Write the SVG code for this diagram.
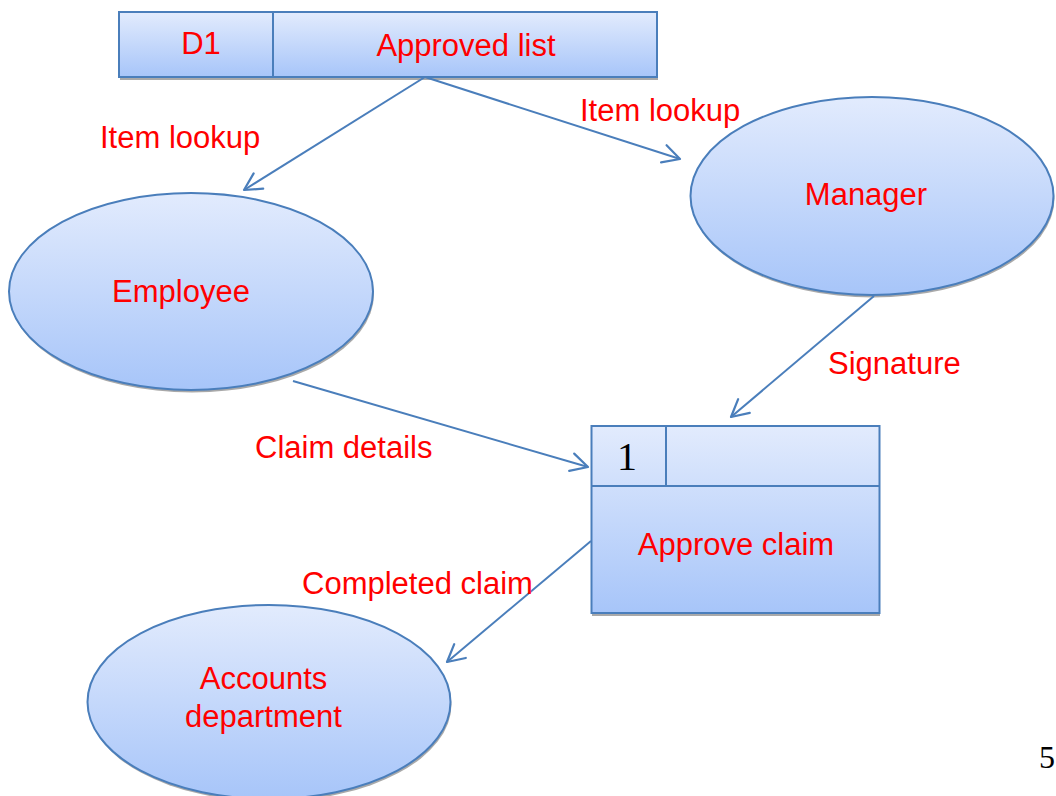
<svg xmlns="http://www.w3.org/2000/svg" width="1056" height="796" viewBox="0 0 1056 796">
<defs>
<linearGradient id="g" x1="0" y1="0" x2="0" y2="1">
<stop offset="0" stop-color="#e2ebfd"/>
<stop offset="1" stop-color="#a7c5f9"/>
</linearGradient>
<marker id="arr" viewBox="0 0 22 22" refX="19" refY="11" markerWidth="22" markerHeight="22" markerUnits="userSpaceOnUse" orient="auto">
<path d="M2,2 L19,11 L2,20" fill="none" stroke="#4a7ebb" stroke-width="2.2" stroke-linecap="round" stroke-linejoin="round"/>
</marker>
</defs>
<style>
.shape{fill:url(#g);stroke:#4a7ebb;stroke-width:2}
.shadow{fill:#8c8c8c;opacity:0.75}
.div{stroke:#4a7ebb;stroke-width:2;fill:none}
.lbl{font-family:"Liberation Sans","DejaVu Sans",sans-serif;font-size:31px;fill:#ff0000}
.num{font-family:"Liberation Serif","DejaVu Serif",serif;fill:#000000}
.conn line{stroke:#4a7ebb;stroke-width:2;marker-end:url(#arr)}
</style>
<rect width="1056" height="796" fill="#ffffff"/>

<g id="store-d1">
<rect class="shadow" x="120" y="15" width="538" height="65"/>
<rect class="shape" x="119" y="12" width="538" height="65"/>
<line class="div" x1="273" y1="12" x2="273" y2="77"/>
<text class="lbl" x="201" y="54" text-anchor="middle">D1</text>
<text class="lbl" x="466" y="56" text-anchor="middle">Approved list</text>
</g>

<g id="employee">
<ellipse class="shadow" cx="192" cy="294" rx="182" ry="98.5"/>
<ellipse class="shape" cx="191" cy="291.5" rx="182" ry="98.5"/>
<text class="lbl" x="181" y="302" text-anchor="middle">Employee</text>
</g>

<g id="manager">
<ellipse class="shadow" cx="873" cy="198.5" rx="181.5" ry="99"/>
<ellipse class="shape" cx="872" cy="196" rx="181.5" ry="99"/>
<text class="lbl" x="866" y="205" text-anchor="middle">Manager</text>
</g>

<g id="process-1">
<rect class="shadow" x="592" y="429" width="288" height="187"/>
<rect class="shape" x="591.5" y="426" width="288" height="187"/>
<line class="div" x1="591.5" y1="486" x2="879.5" y2="486"/>
<line class="div" x1="666" y1="426" x2="666" y2="486"/>
<text class="num" x="627" y="470" text-anchor="middle" font-size="40">1</text>
<text class="lbl" x="736" y="555" text-anchor="middle">Approve claim</text>
</g>

<g id="accounts">
<ellipse class="shadow" cx="270" cy="704.5" rx="181.5" ry="97"/>
<ellipse class="shape" cx="269" cy="702" rx="181.5" ry="97"/>
<text class="lbl" x="263.5" y="689" text-anchor="middle">Accounts</text>
<text class="lbl" x="263.5" y="727" text-anchor="middle">department</text>
</g>

<g id="connectors" class="conn">
<line x1="425" y1="77" x2="244" y2="190"/>
<line x1="425" y1="77" x2="680" y2="159"/>
<line x1="874" y1="296" x2="731" y2="417"/>
<line x1="293" y1="381" x2="588" y2="467"/>
<line x1="591" y1="541" x2="447" y2="662"/>
</g>

<g id="labels">
<text class="lbl" x="100" y="148">Item lookup</text>
<text class="lbl" x="580" y="121">Item lookup</text>
<text class="lbl" x="828" y="374">Signature</text>
<text class="lbl" x="255" y="458">Claim details</text>
<text class="lbl" x="302" y="594">Completed claim</text>
</g>

<text class="num" x="1039" y="768" font-size="32">5</text>
</svg>
